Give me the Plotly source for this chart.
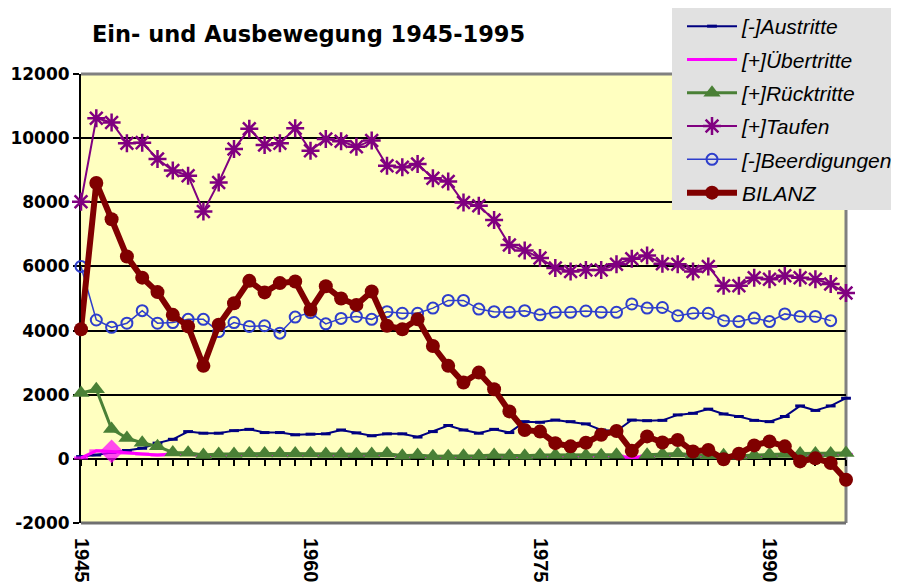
import plotly.graph_objects as go

years = list(range(1945, 1996))
tick_years = [1945, 1960, 1975, 1990]
tick_labels = ["1945", "1960", "1975", "1990"]
y_ticks = [-2000, 0, 2000, 4000, 6000, 8000, 10000, 12000]
y_tick_labels = ["-2000", "0", "2000", "4000", "6000", "8000", "10000", "12000"]

austritte = [70, 120, 200, 260, 330, 490, 610, 850, 800, 800,
             880, 920, 820, 820, 750, 770, 780, 900, 810, 720,
             780, 780, 680, 850, 1040, 900, 800, 920, 820, 1160,
             1140, 1210, 1160, 1090, 900, 870, 1210, 1190, 1200, 1370,
             1420, 1550, 1400, 1320, 1200, 1160, 1320, 1650, 1510, 1650,
             1890]
uebertritte = [30, 250, 230, 180, 150, 120, 150, 150, 90, 110,
               110, 130, 130, 130, 130, 130, 110, 110, 100, 110,
               130, 70, 90, 50, 50, 70, 70, 90, 70, 70,
               90, 90, 90, 80, 80, 90, 40, 90, 110, 130,
               90, 80, 70, 60, 70, 100, 110, 130, 130, 130,
               140]
ruecktritte = [2050, 2170, 930, 650, 500, 390, 200, 190, 120, 150,
               150, 170, 170, 170, 170, 170, 150, 150, 140, 150,
               170, 100, 120, 80, 80, 100, 100, 120, 100, 100,
               120, 120, 120, 110, 110, 130, None, 130, 150, 170,
               130, 110, 110, 100, 110, 140, 150, 170, 170, 170,
               180]
taufen = [8020, 10620, 10490, 9840, 9860, 9350, 8990, 8830, 7710, 8620,
          9660, 10290, 9790, 9840, 10310, 9610, 9970, 9900, 9730, 9930,
          9140, 9090, 9190, 8750, 8650, 7990, 7890, 7450, 6670, 6500,
          6260, 5950, 5840, 5890, 5890, 6070, 6240, 6340, 6080, 6070,
          5840, 6000, 5400, 5400, 5650, 5600, 5710, 5650, 5600, 5450,
          5170]
beerdigungen = [6000, 4330, 4100, 4230, 4620, 4230, 4250, 4350, 4350, 3970,
                4250, 4130, 4150, 3920, 4420, 4560, 4210, 4380, 4440, 4350,
                4590, 4540, 4540, 4700, 4940, 4940, 4670, 4590, 4570, 4620,
                4490, 4570, 4570, 4610, 4570, 4570, 4830, 4700, 4720, 4460,
                4540, 4540, 4310, 4280, 4390, 4280, 4520, 4440, 4440, 4310,
                None]
bilanz = [4040, 8600, 7470, 6310, 5650, 5200, 4490, 4130, 2900, 4180,
          4850, 5550, 5190, 5480, 5530, 4650, 5380, 5000, 4800, 5220,
          4150, 4040, 4350, 3520, 2900, 2380, 2690, 2170, 1480, 900,
          850, 490, 390, 500, 750, 870, 250, 700, 510, 590,
          230, 280, -10, 160, 420, 540, 390, -80, 20, -130,
          -650]

ueber_symbols = ["line-ew"] * len(years)
ueber_symbols[2] = "diamond"
ueber_sizes = [10] * len(years)
ueber_sizes[2] = 15

fig = go.Figure()

fig.add_trace(go.Scatter(
    x=years, y=austritte, name="[-]Austritte", mode="lines+markers",
    line=dict(color="#000080", width=2),
    marker=dict(symbol="line-ew", size=7, color="#000080",
                line=dict(color="#000080", width=3)),
    legendgroup="a", cliponaxis=False))
fig.add_trace(go.Scatter(
    x=years, y=uebertritte, name="[+]Übertritte", mode="lines+markers",
    line=dict(color="#FF00FF", width=3),
    marker=dict(symbol=ueber_symbols, size=ueber_sizes, color="#FF00FF",
                line=dict(color="#FF00FF", width=3)),
    legendgroup="b", cliponaxis=False))
fig.add_trace(go.Scatter(
    x=years, y=ruecktritte, name="[+]Rücktritte", mode="lines+markers",
    line=dict(color="#4A8036", width=3),
    marker=dict(symbol="triangle-up", size=15, color="#4A8036"),
    legendgroup="c", cliponaxis=False))
fig.add_trace(go.Scatter(
    x=years, y=taufen, name="[+]Taufen", mode="lines+markers",
    line=dict(color="#800080", width=2),
    marker=dict(symbol="asterisk-open", size=15, color="#800080",
                line=dict(color="#800080", width=2.5)),
    legendgroup="d", cliponaxis=False))
fig.add_trace(go.Scatter(
    x=years, y=beerdigungen, name="[-]Beerdigungen", mode="lines+markers",
    line=dict(color="#2E3ECC", width=1.5),
    marker=dict(symbol="circle-open", size=11, color="#2E3ECC",
                line=dict(color="#2E3ECC", width=2)),
    legendgroup="e", cliponaxis=False))
fig.add_trace(go.Scatter(
    x=years, y=bilanz, name="BILANZ", mode="lines+markers",
    line=dict(color="#800000", width=6),
    marker=dict(symbol="circle", size=14, color="#800000"),
    legendgroup="f", cliponaxis=False))
# carrier trace for the category axis drawn at y = 0
fig.add_trace(go.Scatter(
    x=years, y=[None] * len(years), xaxis="x2", showlegend=False,
    hoverinfo="skip", mode="lines"))

# The page body adds an 8px offset; work in screen pixels and convert.
OFF = 8
W, H = 899 - OFF, 585 - OFF
PL, PR, PT, PB = 81, 846, 74, 523          # plot area in screen pixels
L, T = PL - OFF, PT - OFF
R, B = W - (PR - OFF), H - (PB - OFF)
pw, ph = PR - PL, PB - PT


def sx(v):
    return (v - PL) / pw


def sy(v):
    return (PB - v) / ph


shapes = [
    dict(type="line", xref="paper", yref="paper", x0=0, x1=1, y0=1, y1=1,
         line=dict(color="#808080", width=3), layer="between"),
    dict(type="line", xref="paper", yref="paper", x0=1, x1=1, y0=0, y1=1,
         line=dict(color="#808080", width=3), layer="between"),
    dict(type="line", xref="paper", yref="paper", x0=0, x1=1, y0=0, y1=0,
         line=dict(color="#707070", width=3), layer="between"),
    dict(type="rect", xref="paper", yref="paper",
         x0=sx(672), x1=sx(905), y0=sy(210), y1=sy(8),
         fillcolor="#E1E1E1", line=dict(width=0), layer="above"),
]

fig.update_layout(
    width=W, height=H, autosize=False,
    margin=dict(l=L, r=R, t=T, b=B, pad=0, autoexpand=False),
    paper_bgcolor="white",
    plot_bgcolor="#FFFFC0",
    title=dict(text="<b>Ein- und Ausbewegung 1945-1995</b>",
               x=(92 - OFF) / W, xanchor="left", xref="container",
               y=1 - (34 - OFF) / H, yanchor="middle", yref="container",
               font=dict(family="DejaVu Sans", size=22.5, color="black")),
    showlegend=True,
    legend=dict(x=sx(682), y=sy(6), xanchor="left", yanchor="top",
                bgcolor="rgba(0,0,0,0)", borderwidth=0,
                tracegroupgap=3, itemwidth=50,
                font=dict(family="Liberation Sans", size=21, color="black",
                          style="italic")),
    xaxis=dict(range=[1945, 1995], tickmode="array", tickvals=tick_years,
               ticktext=tick_labels, tickangle=90, ticks="",
               showgrid=False, zeroline=False, showline=False,
               ticklabelstandoff=14,
               tickfont=dict(family="Liberation Sans", size=20,
                             color="black", weight="bold")),
    xaxis2=dict(range=[1945, 1995], overlaying="x", anchor="free",
                position=2000 / 14000, tickmode="array", tickvals=years,
                ticks="outside", ticklen=6, tickwidth=2, tickcolor="black",
                showticklabels=False, showgrid=False, zeroline=False,
                showline=True, linecolor="black", linewidth=2,
                layer="below traces"),
    yaxis=dict(range=[-2000, 12000], tickmode="array", tickvals=y_ticks,
               ticktext=y_tick_labels,
               ticks="outside", ticklen=6, tickwidth=2, tickcolor="black",
               showline=True, linecolor="black", linewidth=2,
               showgrid=True, gridcolor="black", gridwidth=2,
               zeroline=False, layer="below traces",
               tickfont=dict(family="DejaVu Sans", size=17, color="black",
                             weight="bold")),
    shapes=shapes,
)

fig.write_html("out.html")
